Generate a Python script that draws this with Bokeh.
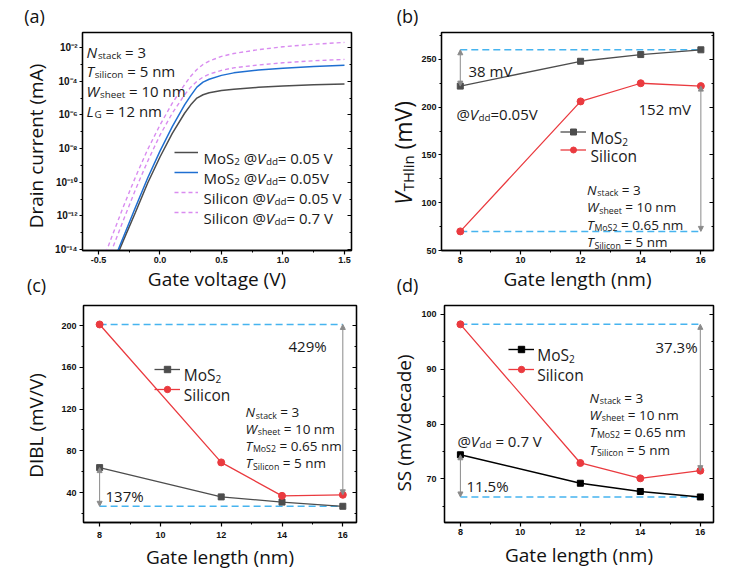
import math
from bokeh.plotting import figure
from bokeh.layouts import row, column
from bokeh.models import (Range1d, FixedTicker, LinearAxis, LogAxis, Label, Legend, LegendItem,
                          Arrow, NormalHead, PrintfTickFormatter, CustomJSTickFormatter)
from bokeh.core.properties import value
from bokeh.embed import file_html
from bokeh.resources import INLINE

# ---------------- data ----------------
# (a) transfer curves: gate voltage (V) and log10 of drain current (mA)
vg_mos2_005 = [-0.34, -0.30, -0.20, -0.10, 0.00, 0.10, 0.20, 0.25, 0.30, 0.35, 0.40, 0.50, 0.60, 0.80, 1.00, 1.25, 1.50]
log_id_mos2_005 = [-14.2, -13.5, -11.8, -10.05, -8.5, -7.1, -5.9, -5.4, -5.0, -4.8, -4.68, -4.55, -4.47, -4.36, -4.28, -4.21, -4.16]
vg_mos2_07 = [-0.35, -0.30, -0.20, -0.10, 0.00, 0.10, 0.20, 0.25, 0.30, 0.35, 0.40, 0.50, 0.60, 0.80, 1.00, 1.25, 1.50]
log_id_mos2_07 = [-14.2, -13.3, -11.5, -9.75, -8.15, -6.7, -5.4, -4.85, -4.35, -4.05, -3.88, -3.65, -3.5, -3.33, -3.22, -3.12, -3.05]
vg_si_005 = [-0.40, -0.30, -0.20, -0.10, 0.00, 0.10, 0.20, 0.25, 0.30, 0.35, 0.40, 0.50, 0.60, 0.80, 1.00, 1.25, 1.50]
log_id_si_005 = [-14.2, -12.3, -10.45, -8.75, -7.2, -5.9, -4.8, -4.35, -4.0, -3.75, -3.58, -3.35, -3.2, -3.03, -2.9, -2.78, -2.70]
vg_si_07 = [-0.44, -0.40, -0.30, -0.20, -0.10, 0.00, 0.10, 0.20, 0.25, 0.30, 0.35, 0.40, 0.50, 0.60, 0.80, 1.00, 1.25, 1.50]
log_id_si_07 = [-14.2, -13.4, -11.5, -9.7, -8.05, -6.6, -5.3, -4.2, -3.7, -3.3, -3.0, -2.8, -2.52, -2.35, -2.12, -1.95, -1.8, -1.69]

# (b)-(d) versus gate length (nm)
gate_length = [8, 12, 14, 16]
vth_mos2 = [222, 248, 255, 260]
vth_si = [70, 206, 225, 222]
dibl_mos2 = [64, 36, 31, 27]
dibl_si = [201, 69, 37, 38]
ss_mos2 = [74.4, 69.2, 67.7, 66.7]
ss_si = [98.2, 72.9, 70.1, 71.5]

# ticks
a_xticks = [-0.5, 0.0, 0.5, 1.0, 1.5]
a_xminor = [-0.25, 0.25, 0.75, 1.25]
a_yticks = [1e-14, 1e-12, 1e-10, 1e-8, 1e-6, 1e-4, 1e-2]
a_ylabels = ["10⁻¹⁴", "10⁻¹²", "10⁻¹⁰", "10⁻⁸", "10⁻⁶", "10⁻⁴", "10⁻²"]
a_yminor = [1e-13, 1e-11, 1e-9, 1e-7, 1e-5, 1e-3]
gl_ticks = [8, 10, 12, 14, 16]
gl_minor = [9, 11, 13, 15]
b_yticks = [50, 100, 150, 200, 250]
b_yminor = [75, 125, 175, 225, 275]
c_yticks = [40, 80, 120, 160, 200]
c_yminor = [20, 60, 100, 140, 180]
d_yticks = [70, 80, 90, 100]
d_yminor = [65, 75, 85, 95]

# ---------------- style ----------------
FONT = "Open Sans"
TICKFONT = "Liberation Sans"
TXT = "#1a1a1a"
AXTXT = "#111111"
GRAY = "#4d4d4d"
BLACK = "#000000"
BLUE = "#1f6fd1"
PINK = "#d98cf0"
RED = "#ea3a3f"
CYAN = "#46b4ef"
ARROWC = "#8a8a8a"
SUB = 0.65
ROT_SHIFT = 8   # rotated labels render about this far right of their anchor

W = {' ': .26, '%': .82, '(': .295, ')': .295, '.': .266, '/': .367, '=': .572, '@': .887,
     'A': .633, 'B': .648, 'D': .729, 'G': .72, 'H': .738, 'I': .303, 'L': .535, 'M': .903,
     'N': .76, 'S': .547, 'T': .55, 'V': .585, 'W': .903, 'a': .556, 'c': .479, 'd': .613,
     'e': .561, 'g': .548, 'h': .614, 'i': .253, 'k': .525, 'l': .253, 'm': .93, 'n': .614,
     'o': .604, 'r': .408, 's': .477, 't': .353, 'u': .614, 'v': .501}


def tw(s, fs):
    return sum(W.get(ch, .572) for ch in s) * fs


def make_fig(w, h, bl, br, bt, bb, xr, yr, log=False):
    p = figure(width=w, height=h, x_range=Range1d(*xr), y_range=Range1d(*yr),
               y_axis_type="log" if log else "linear", output_backend="svg",
               toolbar_location=None, min_border_left=bl, min_border_right=br,
               min_border_top=bt, min_border_bottom=bb)
    p.xgrid.visible = False
    p.ygrid.visible = False
    p.outline_line_color = "black"
    p.outline_line_width = 1.3
    p.background_fill_color = "white"
    p.border_fill_color = "white"
    return p


def make_strip(w, h, x0, ftop, fbot, bt, bb):
    """Text-only strip; data x = page x, data y = -page y (its frame is ftop..fbot)."""
    p = figure(width=w, height=h, x_range=Range1d(x0, x0 + w), y_range=Range1d(-fbot, -ftop),
               output_backend="svg", toolbar_location=None, min_border_left=0, min_border_right=0,
               min_border_top=bt, min_border_bottom=bb, x_axis_location=None, y_axis_location=None)
    p.xgrid.visible = False
    p.ygrid.visible = False
    p.outline_line_color = None
    p.background_fill_color = "white"
    p.border_fill_color = "white"
    return p


def letter_axis(p, side, xc, text, std):
    """Panel letter drawn as the single tick label of a bare axis (outside the frame, never clipped)."""
    ax = LinearAxis(ticker=FixedTicker(ticks=[xc], minor_ticks=[]),
                    major_label_overrides={xc: text})
    ax.axis_line_color = None
    ax.major_tick_line_color = None
    ax.minor_tick_line_color = None
    ax.major_tick_out = 0
    ax.major_tick_in = 0
    ax.major_label_standoff = std
    ax.major_label_text_font = FONT
    ax.major_label_text_font_size = "18px"
    ax.major_label_text_color = AXTXT
    p.add_layout(ax, side)


def style_axis(ax, ticks, minor, tick_out=4, std=3, fs="9px"):
    ax.ticker = FixedTicker(ticks=ticks, minor_ticks=minor)
    ax.major_label_text_font = TICKFONT
    ax.major_label_text_font_style = "bold"
    ax.major_label_text_font_size = fs
    ax.major_label_text_color = AXTXT
    ax.major_label_standoff = std
    ax.axis_line_color = "black"
    ax.axis_line_width = 1.3
    ax.major_tick_line_color = "black"
    ax.major_tick_line_width = 1.2
    ax.minor_tick_line_color = "black"
    ax.minor_tick_line_width = 1.0
    ax.major_tick_out = tick_out
    ax.major_tick_in = 0
    ax.minor_tick_out = 2
    ax.minor_tick_in = 0
    ax.axis_label_text_font = FONT
    ax.axis_label_text_font_style = "normal"
    ax.axis_label_text_font_size = "19px"
    ax.axis_label_text_color = AXTXT


def right_axis(p, ticks, minor, log=False):
    ax = LogAxis() if log else LinearAxis()
    ax.ticker = FixedTicker(ticks=ticks, minor_ticks=minor)
    ax.major_label_text_font_size = "1px"
    ax.major_label_text_alpha = 0
    ax.major_label_standoff = 0
    ax.major_tick_in = 4
    ax.major_tick_out = 0
    ax.minor_tick_in = 2
    ax.minor_tick_out = 0
    ax.axis_line_color = "black"
    ax.axis_line_width = 1.3
    ax.major_tick_line_color = "black"
    ax.minor_tick_line_color = "black"
    p.add_layout(ax, "right")


def _label(p, x, y, xo, yo, t, fs, kind, color, angle, align="left"):
    p.add_layout(Label(x=x, y=y, x_offset=round(xo, 1), y_offset=round(yo, 1), text=t, angle=angle,
                       text_font=FONT, text_font_size=f"{fs:.1f}px",
                       text_font_style="italic" if kind == "i" else "normal",
                       text_color=color, text_baseline="alphabetic", text_align=align))


def put(p, frame, px, py, segs, size, color=TXT):
    """Rich text (italic / subscript segments) inside a plot frame, baseline start at page (px, py)."""
    left, bottom, x0, y0 = frame
    dx = px - left
    dy = bottom - py
    off = 0.0
    for txt, kind in segs:
        fs = size * SUB if kind == "sub" else size
        lead = len(txt) - len(txt.lstrip(" "))
        off += lead * W[" "] * fs
        t = txt.strip(" ")
        trail = len(txt) - lead - len(t)
        shift = -0.25 * size if kind == "sub" else 0.0
        if t:
            _label(p, x0, y0, dx + off, dy + shift, t, fs, kind, color, 0.0)
        off += tw(t, fs) + trail * W[" "] * fs


def vput(p, px, py, segs, size, color=AXTXT):
    """Rotated (reading upwards) rich text in a strip; baseline near page x = px, starting at page y = py."""
    off = 0.0
    for txt, kind in segs:
        fs = size * SUB if kind == "sub" else size
        lead = len(txt) - len(txt.lstrip(" "))
        off += lead * W[" "] * fs
        t = txt.strip(" ")
        trail = len(txt) - lead - len(t)
        shift = 0.25 * size if kind == "sub" else 0.0
        if t:
            _label(p, px - ROT_SHIFT + shift, -py + off, 0, 0, t, fs, kind, color, math.pi / 2)
        off += tw(t, fs) + trail * W[" "] * fs


def vlabel(p, px, py_center, text, size=19):
    _label(p, px - ROT_SHIFT, -py_center, 0, 0, text, size, "n", AXTXT, math.pi / 2, align="center")


def darrow(p, x, y0, y1):
    p.add_layout(Arrow(x_start=x, y_start=y0, x_end=x, y_end=y1, line_color=ARROWC, line_width=1,
                       start=NormalHead(size=5, fill_color=ARROWC, line_color=ARROWC),
                       end=NormalHead(size=5, fill_color=ARROWC, line_color=ARROWC)))


def make_legend(p, items, loc, gw, gh, sp):
    leg = Legend(items=items, location=loc, glyph_width=gw, glyph_height=gh, label_height=gh,
                 label_standoff=0, spacing=sp, padding=0, margin=0,
                 border_line_alpha=0, background_fill_alpha=0, label_text_font_size="2px")
    p.add_layout(leg)


def params_block(p, frame, px, baselines, size):
    lines = [
        [("N", "i"), ("stack", "sub"), (" = 3", "n")],
        [("W", "i"), ("sheet", "sub"), (" = 10 nm", "n")],
        [("T", "i"), ("MoS2", "sub"), (" = 0.65 nm", "n")],
        [("T", "i"), ("Silicon", "sub"), (" = 5 nm", "n")],
    ]
    for segs, py in zip(lines, baselines):
        put(p, frame, px, py, segs, size)


MOS2_SEGS = [("MoS", "n"), ("2", "sub")]
SI_SEGS = [("Silicon", "n")]

TOP_H = 304
BOT_H = 269
TOP_FT, TOP_FB = 31, 250          # frame top / bottom of the upper row (page px)
BOT_FT, BOT_FB = 305, 522         # frame top / bottom of the lower row (page px)

# ================= strips (panel letters and y titles) =================
sl_top = make_strip(50, TOP_H, 0, TOP_FT, TOP_FB, TOP_FT, TOP_H - TOP_FB)
sm_top = make_strip(48, TOP_H, 370, TOP_FT, TOP_FB, TOP_FT, TOP_H - TOP_FB)
sl_bot = make_strip(50, BOT_H, 0, BOT_FT, BOT_FB, BOT_FT - TOP_H, TOP_H + BOT_H - BOT_FB)
sm_bot = make_strip(48, BOT_H, 370, BOT_FT, BOT_FB, BOT_FT - TOP_H, TOP_H + BOT_H - BOT_FB)

letter_axis(sl_top, "above", 34, "(a)", 5)
letter_axis(sl_top, "below", 36, "(c)", 22)
letter_axis(sm_top, "above", 407, "(b)", 5)
letter_axis(sm_top, "below", 407, "(d)", 22)
vlabel(sl_top, 43, 145, "Drain current (mA)")
vput(sm_top, 410, 204, [("V", "i"), ("THlin", "sub"), (" (mV)", "n")], 23)
vlabel(sl_bot, 43, 425, "DIBL (mV/V)")
vlabel(sm_bot, 411, 422.5, "SS (mV/decade)")

# ================= (a) =================
a_xr = (-0.630, 1.557)
a_yr = (10 ** -14.059, 10 ** -1.101)
pa = make_fig(320, TOP_H, 32, 19, TOP_FT, TOP_H - TOP_FB, a_xr, a_yr, log=True)
FA = (82, TOP_FB, a_xr[0], a_yr[0])
style_axis(pa.xaxis[0], a_xticks, a_xminor, 4, 2)
pa.xaxis[0].formatter = PrintfTickFormatter(format="%.1f")
pa.xaxis[0].axis_label = "Gate voltage (V)"
pa.xaxis[0].axis_label_standoff = 0
style_axis(pa.yaxis[0], a_yticks, a_yminor, 3, 2, fs="10px")
pa.yaxis[0].formatter = CustomJSTickFormatter(args=dict(tvals=a_yticks, tlabels=a_ylabels), code="""
let best = 0, bd = Infinity;
for (let i = 0; i < tvals.length; i++) {
  const d = Math.abs(Math.log10(tvals[i]) - Math.log10(tick));
  if (d < bd) { bd = d; best = i; }
}
return tlabels[best];
""")
right_axis(pa, a_yticks, a_yminor, log=True)

r1 = pa.line(vg_mos2_005, [10 ** v for v in log_id_mos2_005], line_color=GRAY, line_width=1.5)
r2 = pa.line(vg_mos2_07, [10 ** v for v in log_id_mos2_07], line_color=BLUE, line_width=1.5)
r3 = pa.line(vg_si_005, [10 ** v for v in log_id_si_005], line_color=PINK, line_width=1.4, line_dash="4 3")
r4 = pa.line(vg_si_07, [10 ** v for v in log_id_si_07], line_color=PINK, line_width=1.4, line_dash="4 3")

make_legend(pa, [LegendItem(label=value(" "), renderers=[r]) for r in (r1, r2, r3, r4)],
            (92, 28), 24, 20, 0)
leg_a = [
    MOS2_SEGS + [(" @", "n"), ("V", "i"), ("dd", "sub"), ("= 0.05 V", "n")],
    MOS2_SEGS + [(" @", "n"), ("V", "i"), ("dd", "sub"), ("= 0.05V", "n")],
    SI_SEGS + [(" @", "n"), ("V", "i"), ("dd", "sub"), ("= 0.05 V", "n")],
    SI_SEGS + [(" @", "n"), ("V", "i"), ("dd", "sub"), ("= 0.7 V", "n")],
]
for segs, py in zip(leg_a, [157.4, 177.4, 197.4, 217.4]):
    put(pa, FA, 203, py, segs, 15)

a_block = [
    [("N", "i"), ("stack", "sub"), (" = 3", "n")],
    [("T", "i"), ("silicon", "sub"), (" = 5 nm", "n")],
    [("W", "i"), ("sheet", "sub"), (" = 10 nm", "n")],
    [("L", "i"), ("G", "sub"), (" = 12 nm", "n")],
]
for segs, py in zip(a_block, [51.7, 70.7, 90.0, 110.0]):
    put(pa, FA, 86, py, segs, 15)

# ================= (b) =================
b_xr = (7.375, 16.42)
b_yr = (50, 278.1)
pb = make_fig(310, TOP_H, 20, 15, TOP_FT, TOP_H - TOP_FB, b_xr, b_yr)
FB = (438, TOP_FB, b_xr[0], b_yr[0])
style_axis(pb.xaxis[0], gl_ticks, gl_minor, 4, 2)
pb.xaxis[0].axis_label = "Gate length (nm)"
pb.xaxis[0].axis_label_standoff = 0
style_axis(pb.yaxis[0], b_yticks, b_yminor, 3, 2)
right_axis(pb, b_yticks, b_yminor)

pb.segment(x0=[gate_length[0]] * 2, x1=[gate_length[-1]] * 2, y0=[max(vth_mos2), min(vth_si)],
           y1=[max(vth_mos2), min(vth_si)], line_color=CYAN, line_width=1.5, line_dash="7 4")
bl1 = pb.line(gate_length, vth_mos2, line_color=GRAY, line_width=1.3)
bs1 = pb.scatter(gate_length, vth_mos2, marker="square", size=6, fill_color=GRAY, line_color=GRAY)
bl2 = pb.line(gate_length, vth_si, line_color=RED, line_width=1.3)
bs2 = pb.scatter(gate_length, vth_si, marker="circle", size=7, fill_color=RED, line_color=RED)
darrow(pb, gate_length[0], vth_mos2[0], max(vth_mos2))
darrow(pb, gate_length[-1], vth_si[-1], min(vth_si))

make_legend(pb, [LegendItem(label=value(" "), renderers=[bl1, bs1]),
                 LegendItem(label=value(" "), renderers=[bl2, bs2])], (119, 93), 26, 15, 3)
put(pb, FB, 587, 137.3, MOS2_SEGS, 15.5)
put(pb, FB, 587, 155.6, SI_SEGS, 15.5)
put(pb, FB, 465, 70, [("38 mV", "n")], 15)
put(pb, FB, 635, 108, [("152 mV", "n")], 15)
put(pb, FB, 453, 113, [("@", "n"), ("V", "i"), ("dd", "sub"), ("=0.05V", "n")], 15)
params_block(pb, FB, 583.5, [189, 206.7, 224, 241.7], 13.5)

# ================= (c) =================
c_xr = (7.47, 16.45)
c_yr = (11.48, 219.14)
pc = make_fig(320, BOT_H, 33, 14, BOT_FT - TOP_H, TOP_H + BOT_H - BOT_FB, c_xr, c_yr)
FC = (83, BOT_FB, c_xr[0], c_yr[0])
style_axis(pc.xaxis[0], gl_ticks, gl_minor, 4, 5)
pc.xaxis[0].axis_label = "Gate length (nm)"
pc.xaxis[0].axis_label_standoff = 3
style_axis(pc.yaxis[0], c_yticks, c_yminor, 4, 3)
right_axis(pc, c_yticks, c_yminor)

pc.segment(x0=[gate_length[0]] * 2, x1=[gate_length[-1]] * 2, y0=[max(dibl_si), min(dibl_mos2)],
           y1=[max(dibl_si), min(dibl_mos2)], line_color=CYAN, line_width=1.5, line_dash="7 4")
cl1 = pc.line(gate_length, dibl_mos2, line_color=GRAY, line_width=1.3)
cs1 = pc.scatter(gate_length, dibl_mos2, marker="square", size=6, fill_color=GRAY, line_color=GRAY)
cl2 = pc.line(gate_length, dibl_si, line_color=RED, line_width=1.3)
cs2 = pc.scatter(gate_length, dibl_si, marker="circle", size=7, fill_color=RED, line_color=RED)
darrow(pc, gate_length[-1], dibl_si[-1], max(dibl_si))
darrow(pc, gate_length[0], dibl_mos2[0], min(dibl_mos2))

make_legend(pc, [LegendItem(label=value(" "), renderers=[cl1, cs1]),
                 LegendItem(label=value(" "), renderers=[cl2, cs2])], (71, 125), 26, 16, 4)
put(pc, FC, 183.3, 374.9, MOS2_SEGS, 15.5)
put(pc, FC, 183.3, 394.9, SI_SEGS, 15.5)
put(pc, FC, 288, 345, [("429%", "n")], 15)
put(pc, FC, 105, 495, [("137%", "n")], 15)
params_block(pc, FC, 245, [411.7, 428.3, 445, 462.7], 13.5)

# ================= (d) =================
d_xr = (7.47, 16.44)
d_yr = (62.04, 101.64)
pd_ = make_fig(310, BOT_H, 25, 15, BOT_FT - TOP_H, TOP_H + BOT_H - BOT_FB, d_xr, d_yr)
FD = (443, BOT_FB, d_xr[0], d_yr[0])
style_axis(pd_.xaxis[0], gl_ticks, gl_minor, 4, 2)
pd_.xaxis[0].axis_label = "Gate length (nm)"
pd_.xaxis[0].axis_label_standoff = 4
style_axis(pd_.yaxis[0], d_yticks, d_yminor, 4, 4)
right_axis(pd_, d_yticks, d_yminor)

pd_.segment(x0=[gate_length[0]] * 2, x1=[gate_length[-1]] * 2, y0=[max(ss_si), min(ss_mos2)],
            y1=[max(ss_si), min(ss_mos2)], line_color=CYAN, line_width=1.5, line_dash="7 4")
dl1 = pd_.line(gate_length, ss_mos2, line_color=BLACK, line_width=1.4)
ds1 = pd_.scatter(gate_length, ss_mos2, marker="square", size=6, fill_color=BLACK, line_color=BLACK)
dl2 = pd_.line(gate_length, ss_si, line_color=RED, line_width=1.3)
ds2 = pd_.scatter(gate_length, ss_si, marker="circle", size=7, fill_color=RED, line_color=RED)
darrow(pd_, gate_length[-1], ss_si[-1], max(ss_si))
darrow(pd_, gate_length[0], ss_mos2[0], min(ss_mos2))

make_legend(pd_, [LegendItem(label=value(" "), renderers=[dl1, ds1]),
                  LegendItem(label=value(" "), renderers=[dl2, ds2])], (64, 145), 26, 16, 4)
put(pd_, FD, 535.7, 354.9, MOS2_SEGS, 15.5)
put(pd_, FD, 535.7, 374.9, SI_SEGS, 15.5)
put(pd_, FD, 654, 346.7, [("37.3%", "n")], 15)
put(pd_, FD, 465, 485.7, [("11.5%", "n")], 15)
put(pd_, FD, 456, 440, [("@", "n"), ("V", "i"), ("dd", "sub"), (" = 0.7 V", "n")], 15)
params_block(pd_, FD, 588, [397.3, 414, 431, 449], 13.5)

layout = column(row(sl_top, pa, sm_top, pb), row(sl_bot, pc, sm_bot, pd_))
open("out.html", "w").write(file_html(layout, INLINE))
